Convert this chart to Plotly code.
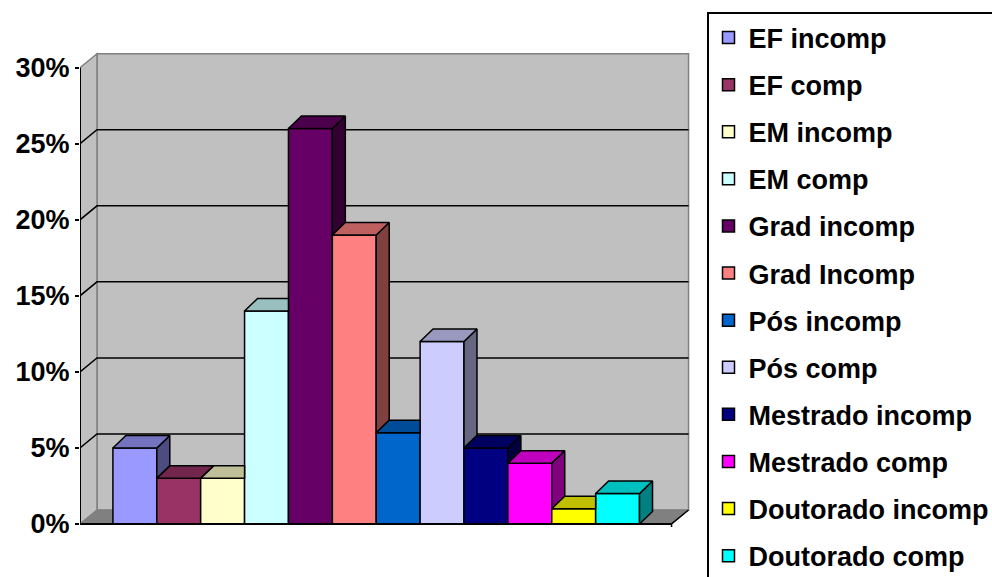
import plotly.graph_objects as go

# ---------------- data ----------------
categories = ["EF incomp", "EF comp", "EM incomp", "EM comp", "Grad incomp",
              "Grad Incomp", "Pós incomp", "Pós comp", "Mestrado incomp",
              "Mestrado comp", "Doutorado incomp", "Doutorado comp"]
values = [5, 3, 3, 14, 26, 19, 6, 12, 5, 4, 1, 2]
colors = ["#9999FF", "#993366", "#FFFFCC", "#CCFFFF", "#660066", "#FF8080",
          "#0066CC", "#CCCCFF", "#000080", "#FF00FF", "#FFFF00", "#00FFFF"]
y_ticks = [0, 5, 10, 15, 20, 25, 30]
y_tick_labels = ["0%", "5%", "10%", "15%", "20%", "25%", "30%"]

# ---------------- styling / geometry ----------------
FONT = "Liberation Sans, Arial, sans-serif"
X0, X1 = -1.25, 12.23        # front edges of the floor
WDX, WDY = 0.387, 0.92       # wall depth offset
BDX, BDY = 0.296, 0.82       # bar depth offset
WALL = "#C0C0C0"
EDGE = "#808080"


def shade(hex_color, f):
    h = hex_color.lstrip("#")
    r, g, b = (int(h[k:k + 2], 16) for k in (0, 2, 4))
    return "rgb(%d,%d,%d)" % (round(r * f), round(g * f), round(b * f))


fig = go.Figure()

# front faces (real bars)
for i, (c, v, col) in enumerate(zip(categories, values, colors)):
    fig.add_trace(go.Bar(
        x=[i], y=[v], width=1, name=c, legendgroup=c,
        marker=dict(color=col, line=dict(color="black", width=1.5)),
        hovertemplate=c + ": %{y}%<extra></extra>"))

# 3D side and top faces derived from the values
n = len(values)
for i, (v, col) in enumerate(zip(values, colors)):
    L, R = i - 0.5, i + 0.5
    nxt = values[i + 1] if i < n - 1 else 0
    base = nxt if i < n - 1 else 0
    if v > base:
        xs = [R, R + BDX, R + BDX, R, R]
        ys = [base, base + BDY, v + BDY, v, base]
        fig.add_trace(go.Scatter(x=xs, y=ys, mode="lines", fill="toself",
                                 fillcolor=shade(col, 0.5),
                                 line=dict(color="black", width=1.5),
                                 hoverinfo="skip", showlegend=False))
    if i < n - 1 and nxt > v:
        if nxt >= v + BDY:
            xs = [L, R, R, L + BDX, L]
            ys = [v, v, v + BDY, v + BDY, v]
        else:
            xi = R + BDX * (nxt - v) / BDY
            xs = [L, R, R, xi, R + BDX, L + BDX, L]
            ys = [v, v, nxt, nxt, v + BDY, v + BDY, v]
    else:
        xs = [L, R, R + BDX, L + BDX, L]
        ys = [v, v, v + BDY, v + BDY, v]
    fig.add_trace(go.Scatter(x=xs, y=ys, mode="lines", fill="toself",
                             fillcolor=shade(col, 0.75),
                             line=dict(color="black", width=1.5),
                             hoverinfo="skip", showlegend=False))

# ---------------- walls, floor, gridlines ----------------
top = y_ticks[-1]
shapes = []
shapes.append(dict(type="rect", xref="x", yref="y", layer="below",
                   x0=X0 + WDX, x1=X1 + WDX, y0=WDY, y1=top + WDY,
                   fillcolor=WALL, line=dict(color=EDGE, width=1.5)))
shapes.append(dict(type="path", xref="x", yref="y", layer="below",
                   path="M %f,%f L %f,%f L %f,%f L %f,%f Z" % (
                       X0, 0, X0 + WDX, WDY, X0 + WDX, top + WDY, X0, top),
                   fillcolor=WALL, line=dict(color=EDGE, width=1.5)))
shapes.append(dict(type="path", xref="x", yref="y", layer="below",
                   path="M %f,%f L %f,%f L %f,%f L %f,%f Z" % (
                       X0, 0, X1, 0, X1 + WDX, WDY, X0 + WDX, WDY),
                   fillcolor=EDGE, line=dict(color=EDGE, width=1)))
for t in y_ticks[1:-1]:
    shapes.append(dict(type="path", xref="x", yref="y", layer="below",
                       path="M %f,%f L %f,%f L %f,%f" % (
                           X0, t, X0 + WDX, t + WDY, X1 + WDX, t + WDY),
                       line=dict(color="black", width=1.5)))
shapes.append(dict(type="line", xref="x", yref="y", layer="above",
                   x0=X0, x1=X0, y0=0, y1=top, line=dict(color="black", width=2)))
shapes.append(dict(type="line", xref="x", yref="y", layer="above",
                   x0=X0, x1=X1, y0=0, y1=0, line=dict(color="black", width=2)))
shapes.append(dict(type="path", xref="x", yref="y", layer="above",
                   path="M %f,%f L %f,%f L %f,%f" % (
                       X1, -0.45, X1, 0, X1 + WDX, WDY),
                   line=dict(color="black", width=1.5)))

fig.update_layout(
    width=992, height=577,
    margin=dict(l=80, r=302, t=51, b=50),
    paper_bgcolor="white", plot_bgcolor="white",
    barmode="overlay",
    shapes=shapes,
    font=dict(family=FONT, size=27, color="black", weight="bold"),
    xaxis=dict(range=[-1.25, 12.65], visible=False, fixedrange=True),
    yaxis=dict(range=[-0.2, 31.1], tickvals=y_ticks, ticktext=y_tick_labels,
               ticks="outside", ticklen=4, tickwidth=2, tickcolor="black",
               showgrid=False, zeroline=False, showline=False,
               tickfont=dict(family=FONT, size=27, color="black", weight="bold"),
               fixedrange=True),
    legend=dict(xref="container", yref="container", x=707 / 992, y=1 - 12 / 577,
                xanchor="left", yanchor="top", bgcolor="white",
                bordercolor="black", borderwidth=1.5, tracegroupgap=9,
                itemwidth=30, maxheight=800,
                font=dict(family=FONT, size=27, color="black", weight="bold")),
)

fig.write_html("out.html")
